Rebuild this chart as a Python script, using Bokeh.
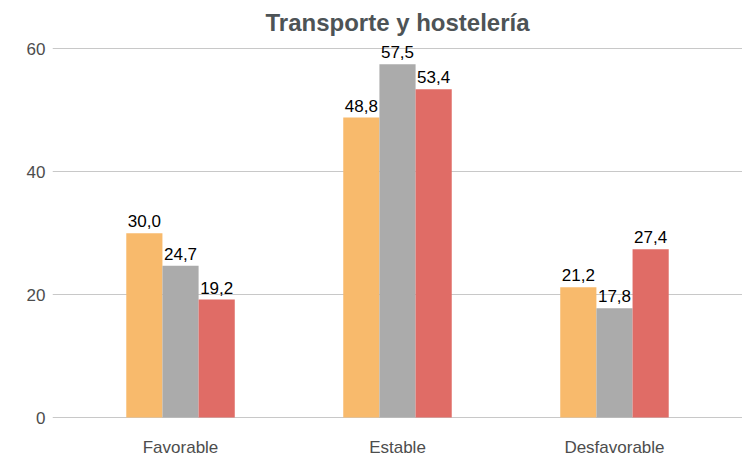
from bokeh.plotting import figure
from bokeh.models import ColumnDataSource, FactorRange, Range1d, LabelSet, FixedTicker
from bokeh.transform import dodge
from bokeh.core.properties import value
from bokeh.embed import file_html
from bokeh.resources import INLINE

categories = ["Favorable", "Estable", "Desfavorable"]
values_a = [30.0, 48.8, 21.2]
values_b = [24.7, 57.5, 17.8]
values_c = [19.2, 53.4, 27.4]
colors = ["#F8BA6C", "#ABABAB", "#E06C66"]
y_ticks = [0, 20, 40, 60]

series_values = [values_a, values_b, values_c]
offsets = [-1/6, 0, 1/6]

FONT = "Liberation Sans"

p = figure(width=742, height=459, output_backend="svg", toolbar_location=None,
           x_range=FactorRange(factors=categories, range_padding=0.06, range_padding_units="percent"),
           y_range=Range1d(-0.16, 62),
           min_border_left=52, min_border_right=0, min_border_top=36, min_border_bottom=41,
           title="Transporte y hostelería")
p.outline_line_color = None
p.background_fill_color = "white"
p.border_fill_color = "white"

p.title.text_font = FONT
p.title.text_font_size = "24px"
p.title.text_font_style = "bold"
p.title.text_color = "#4D5356"
p.title.align = "center"
p.title.standoff = 2

for vals, off, col in zip(series_values, offsets, colors):
    src = ColumnDataSource(dict(cat=categories, v=vals,
                                lab=[f"{x:.1f}".replace(".", ",") for x in vals]))
    xd = dodge("cat", off, range=p.x_range)
    p.vbar(x=xd, top="v", width=1/6, bottom=0, source=src, fill_color=col, line_color=None)
    p.add_layout(LabelSet(x=xd, y="v", text="lab", source=src, text_align="center",
                          text_baseline="alphabetic", y_offset=6,
                          text_font=value(FONT), text_font_size=value("17px"),
                          text_color="black"))

p.xgrid.grid_line_color = None
p.ygrid.grid_line_color = "#C8C8C8"
p.ygrid.grid_line_width = 1
p.yaxis.ticker = FixedTicker(ticks=y_ticks)

for ax in (p.xaxis, p.yaxis):
    ax.axis_line_color = None
    ax.major_tick_line_color = None
    ax.minor_tick_line_color = None
    ax.major_tick_out = 0
    ax.major_tick_in = 0
    ax.major_label_text_font = FONT
    ax.major_label_text_font_size = "17px"
    ax.major_label_text_color = "#4D4D4D"

p.yaxis.major_label_standoff = 7
p.xaxis.major_label_standoff = 19

open("out.html", "w").write(file_html(p, INLINE))
